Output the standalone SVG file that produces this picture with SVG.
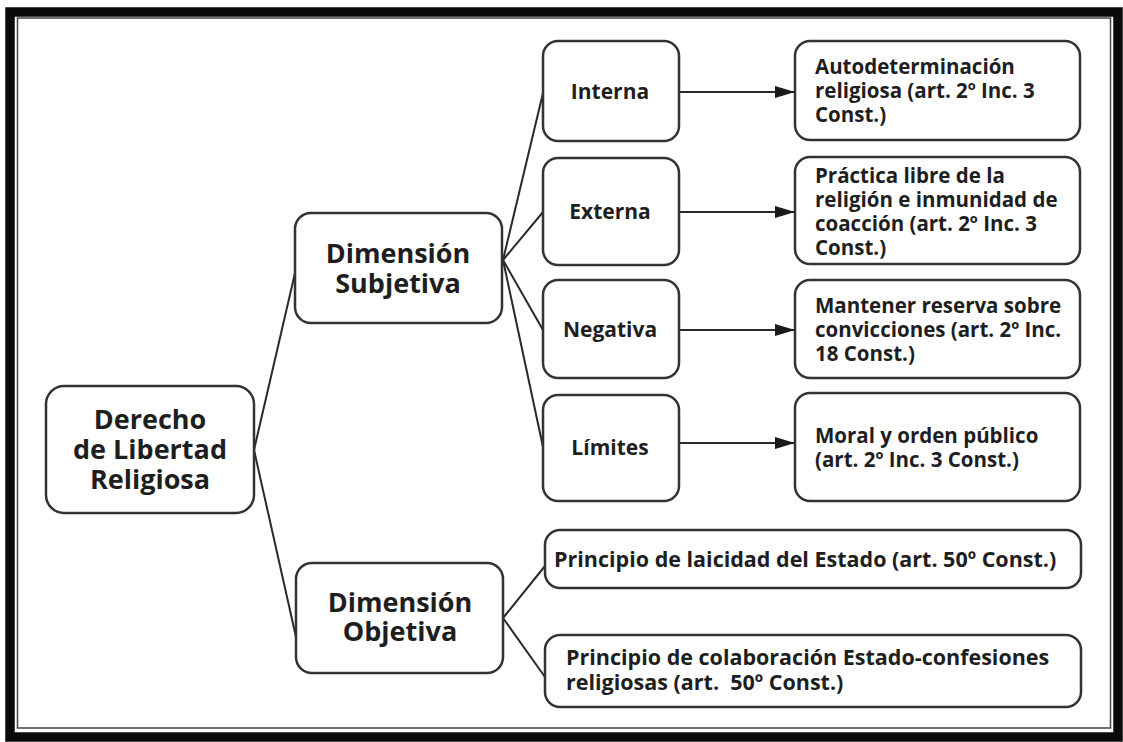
<svg xmlns="http://www.w3.org/2000/svg" width="1123" height="742" viewBox="0 0 1123 742">
<defs>
<style>
.box{fill:#fff;stroke:#333;stroke-width:2.5}
.t{font-family:"Open Sans","Liberation Sans",sans-serif;font-weight:700;fill:#1e1e1e}
.big{font-size:27px}
.mid{font-size:21px}
.sm{font-size:20.5px}
.pr{font-size:21.5px}
.c{text-anchor:middle}
.ln{stroke:#2a2a2a;stroke-width:2;fill:none}
</style>
<marker id="ah" viewBox="0 0 20 12" refX="20" refY="6" markerWidth="20" markerHeight="12" markerUnits="userSpaceOnUse" orient="auto">
<path d="M0,0 L20,6 L0,12 Z" fill="#1a1a1a"/>
</marker>
</defs>
<rect x="0" y="0" width="1123" height="742" fill="#fff"/>
<g id="frame">
<rect x="10" y="12" width="1108" height="725" fill="none" stroke="#0a0a0a" stroke-width="9.5"/>
<rect x="17.5" y="18" width="1093" height="710" fill="none" stroke="#444" stroke-width="1.5"/>
</g>
<g id="connectors">
<line class="ln" x1="254" y1="450" x2="295" y2="273"/>
<line class="ln" x1="254" y1="450" x2="296" y2="637"/>
<line class="ln" x1="503" y1="260" x2="543" y2="93"/>
<line class="ln" x1="503" y1="260" x2="543" y2="212"/>
<line class="ln" x1="503" y1="260" x2="543" y2="330"/>
<line class="ln" x1="503" y1="260" x2="543" y2="447"/>
<line class="ln" x1="503" y1="618" x2="545" y2="566"/>
<line class="ln" x1="503" y1="618" x2="545" y2="677"/>
<line class="ln" x1="679" y1="92" x2="795" y2="92" marker-end="url(#ah)"/>
<line class="ln" x1="679" y1="212" x2="795" y2="212" marker-end="url(#ah)"/>
<line class="ln" x1="679" y1="330" x2="795" y2="330" marker-end="url(#ah)"/>
<line class="ln" x1="679" y1="443" x2="795" y2="443" marker-end="url(#ah)"/>
</g>
<g id="derecho">
<rect class="box" x="46" y="386" width="208" height="127" rx="18"/>
<text class="t big c" x="150" y="429">Derecho</text>
<text class="t big c" x="150" y="459">de Libertad</text>
<text class="t big c" x="150" y="489">Religiosa</text>
</g>
<g id="dim-subjetiva">
<rect class="box" x="295" y="213" width="207" height="110" rx="16"/>
<text class="t big c" x="398" y="263">Dimensión</text>
<text class="t big c" x="398" y="293">Subjetiva</text>
</g>
<g id="dim-objetiva">
<rect class="box" x="296" y="563" width="207" height="110" rx="16"/>
<text class="t big c" x="400" y="612">Dimensión</text>
<text class="t big c" x="400" y="641">Objetiva</text>
</g>
<g id="interna">
<rect class="box" x="543" y="41" width="136" height="100" rx="15"/>
<text class="t mid c" x="610" y="99">Interna</text>
</g>
<g id="externa">
<rect class="box" x="543" y="158" width="136" height="107" rx="15"/>
<text class="t mid c" x="610" y="219">Externa</text>
</g>
<g id="negativa">
<rect class="box" x="543" y="280" width="136" height="98" rx="15"/>
<text class="t mid c" x="610" y="337">Negativa</text>
</g>
<g id="limites">
<rect class="box" x="543" y="395" width="136" height="106" rx="15"/>
<text class="t mid c" x="610" y="455">Límites</text>
</g>
<g id="autodeterminacion">
<rect class="box" x="795" y="41" width="285" height="99" rx="15"/>
<text class="t sm" x="815" y="74">Autodeterminación</text>
<text class="t sm" x="815" y="98">religiosa (art. 2º Inc. 3</text>
<text class="t sm" x="815" y="122">Const.)</text>
</g>
<g id="practica">
<rect class="box" x="795" y="157" width="285" height="107" rx="15"/>
<text class="t sm" x="815" y="183">Práctica libre de la</text>
<text class="t sm" x="815" y="207">religión e inmunidad de</text>
<text class="t sm" x="815" y="231">coacción (art. 2º Inc. 3</text>
<text class="t sm" x="815" y="255">Const.)</text>
</g>
<g id="mantener">
<rect class="box" x="795" y="280" width="285" height="98" rx="15"/>
<text class="t sm" x="815" y="313">Mantener reserva sobre</text>
<text class="t sm" x="815" y="337">convicciones (art. 2º Inc.</text>
<text class="t sm" x="815" y="361">18 Const.)</text>
</g>
<g id="moral">
<rect class="box" x="795" y="393" width="285" height="108" rx="15"/>
<text class="t sm" x="815" y="443">Moral y orden público</text>
<text class="t sm" x="815" y="467">(art. 2º Inc. 3 Const.)</text>
</g>
<g id="laicidad">
<rect class="box" x="545" y="530" width="536" height="58" rx="15"/>
<text class="t pr" x="554" y="567">Principio de laicidad del Estado (art. 50º Const.)</text>
</g>
<g id="colaboracion">
<rect class="box" x="545" y="635" width="536" height="72" rx="15"/>
<text class="t pr" x="566" y="665">Principio de colaboración Estado-confesiones</text>
<text class="t pr" x="566" y="690" xml:space="preserve">religiosas (art.  50º Const.)</text>
</g>
</svg>
